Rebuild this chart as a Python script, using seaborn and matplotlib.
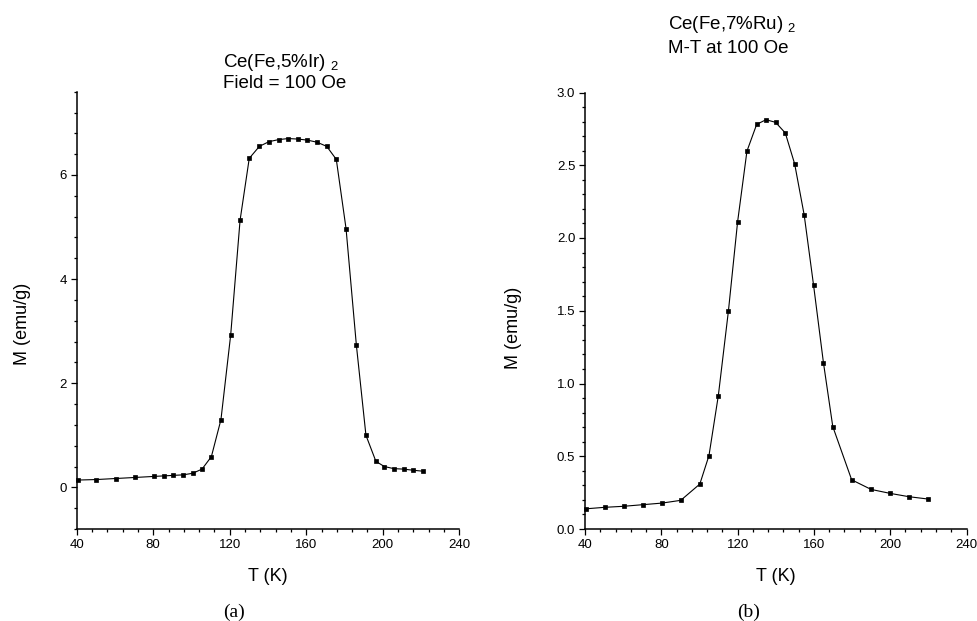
import numpy as np
import pandas as pd
import matplotlib
matplotlib.use("Agg")
import matplotlib.pyplot as plt
from matplotlib.ticker import MultipleLocator, FormatStrFormatter
import seaborn as sns

# ---- data: panel (a) Ce(Fe,5%Ir)2 ----
T_a = [40.5, 50.3, 60.4, 70.5, 80.4, 85.5, 90.5, 95.6, 100.6, 105.5, 110.4, 115.4,
       120.5, 125.4, 130.2, 135.5, 140.5, 145.6, 150.6, 155.7, 160.6, 165.6, 170.7,
       175.7, 180.8, 186.2, 191.2, 196.4, 200.8, 205.7, 210.9, 215.6, 221.0]
M_a = [0.14, 0.15, 0.17, 0.19, 0.21, 0.22, 0.23, 0.24, 0.27, 0.35, 0.59, 1.30,
       2.93, 5.13, 6.32, 6.55, 6.64, 6.68, 6.70, 6.69, 6.67, 6.63, 6.55,
       6.30, 4.97, 2.73, 1.00, 0.50, 0.40, 0.36, 0.35, 0.33, 0.31]

# ---- data: panel (b) Ce(Fe,7%Ru)2 ----
T_b = [40.7, 50.3, 60.2, 70.2, 80.3, 90.2, 100.2, 105.0, 109.9, 115.2, 120.0, 124.9,
       130.0, 134.9, 139.9, 145.0, 149.9, 154.9, 159.8, 165.0, 169.9, 179.8, 190.0,
       199.9, 209.8, 219.8]
M_b = [0.139, 0.149, 0.156, 0.167, 0.178, 0.197, 0.309, 0.505, 0.917, 1.50, 2.111, 2.597,
       2.781, 2.813, 2.795, 2.722, 2.510, 2.159, 1.678, 1.143, 0.704, 0.338, 0.272,
       0.245, 0.222, 0.206]

title_a = ["Ce(Fe,5%Ir) $_2$", "Field = 100 Oe"]
title_b = ["Ce(Fe,7%Ru) $_2$", "M-T at 100 Oe"]
xlabel = "T (K)"
ylabel = "M (emu/g)"
panel_tags = ["(a)", "(b)"]

sns.set_theme(style="ticks")
plt.rcParams["font.family"] = ["Liberation Sans", "DejaVu Sans"]
plt.rcParams["mathtext.fontset"] = "custom"
plt.rcParams["mathtext.rm"] = "Liberation Sans"
plt.rcParams["mathtext.it"] = "Liberation Sans"
plt.rcParams["text.color"] = "black"

W, H = 977, 621
fig = plt.figure(figsize=(W / 100, H / 100), dpi=100)
fig.patch.set_facecolor("white")


def ax_rect(l, r, t, b):
    return [l / W, 1 - b / H, (r - l) / W, (b - t) / H]


def fx(x):
    return x / W


def fy(y):
    return 1 - y / H


ax_a = fig.add_axes(ax_rect(76.7, 459.3, 91.7, 529))
ax_b = fig.add_axes(ax_rect(585.0, 966.5, 92.5, 529))

df_a = pd.DataFrame({"T": T_a, "M": M_a})
df_b = pd.DataFrame({"T": T_b, "M": M_b})

for ax, df in [(ax_a, df_a), (ax_b, df_b)]:
    sns.lineplot(data=df, x="T", y="M", ax=ax, color="black", linewidth=0.8,
                 marker="s", markersize=3.4, markeredgewidth=0.5,
                 markeredgecolor="black", markerfacecolor="black",
                 sort=False, clip_on=False)
    ax.set_facecolor("white")
    ax.set_xlim(40, 240)
    ax.xaxis.set_major_locator(MultipleLocator(40))
    ax.xaxis.set_minor_locator(MultipleLocator(8))
    for s in ["top", "right"]:
        ax.spines[s].set_visible(False)
    for s in ["left", "bottom"]:
        ax.spines[s].set_linewidth(1.1)
        ax.spines[s].set_color("black")
    ax.tick_params(which="major", direction="out", length=4, width=0.9,
                   labelsize=9.5, colors="black", labelcolor="black", pad=3)
    ax.tick_params(which="minor", direction="out", length=2.5, width=0.9,
                   colors="black")
    ax.set_xlabel("")
    ax.set_ylabel("")

ax_a.set_ylim(-0.8, 7.6)
ax_a.yaxis.set_major_locator(MultipleLocator(2))
ax_a.yaxis.set_minor_locator(MultipleLocator(0.4))

ax_b.set_ylim(0, 3.0)
ax_b.yaxis.set_major_locator(MultipleLocator(0.5))
ax_b.yaxis.set_minor_locator(MultipleLocator(0.1))
ax_b.yaxis.set_major_formatter(FormatStrFormatter("%.1f"))

fs_t = 13.5
fs_l = 13
# titles
fig.text(fx(223), fy(67), title_a[0], ha="left", va="baseline", fontsize=fs_t)
fig.text(fx(223), fy(88), title_a[1], ha="left", va="baseline", fontsize=fs_t)
fig.text(fx(668), fy(29), title_b[0], ha="left", va="baseline", fontsize=fs_t)
fig.text(fx(668), fy(53), title_b[1], ha="left", va="baseline", fontsize=fs_t)

# axis labels
fig.text(fx(267.5), fy(581), xlabel, ha="center", va="baseline", fontsize=fs_l)
fig.text(fx(776), fy(581), xlabel, ha="center", va="baseline", fontsize=fs_l)
fig.text(fx(22.5), fy(324), ylabel, ha="center", va="center", rotation=90, fontsize=fs_l)
fig.text(fx(514), fy(328), ylabel, ha="center", va="center", rotation=90, fontsize=fs_l)

# panel tags
fig.text(fx(234), fy(612), panel_tags[0], ha="center", va="center", fontsize=14,
         family=["Liberation Serif", "DejaVu Serif"])
fig.text(fx(749), fy(612), panel_tags[1], ha="center", va="center", fontsize=14,
         family=["Liberation Serif", "DejaVu Serif"])

fig.savefig("out.png", dpi=100, facecolor="white")
